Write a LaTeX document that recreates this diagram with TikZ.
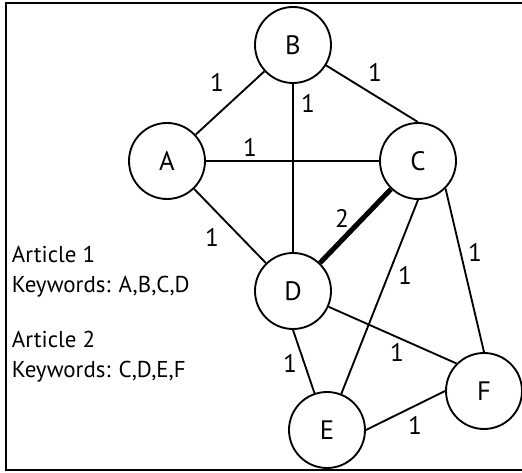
\documentclass[tikz,border=0pt]{standalone}
\usepackage{fontspec}
\setmainfont{PT Sans}
\usetikzlibrary{shapes,positioning}

\begin{document}
\begin{tikzpicture}[x=0.75pt,y=-0.75pt,line width=1.4pt,
  vertex/.style={circle, draw, minimum size=57pt, inner sep=0pt, font=\fontsize{20}{22}\selectfont},
  wt/.style={font=\fontsize{19}{21}\selectfont, inner sep=0pt},
  note/.style={anchor=base west, inner sep=0pt, font=\fontsize{17.2}{19}\selectfont}]
\useasboundingbox (0,0) rectangle (522,473);
\draw (6,3) rectangle (530,470);

\node[vertex] (A) at (167,161) {A};
\node[vertex] (B) at (293,45) {B};
\node[vertex] (C) at (418,161) {C};
\node[vertex] (D) at (293,291) {D};
\node[vertex] (E) at (327,430) {E};
\node[vertex] (F) at (484,391) {F};

\draw (A) -- (B);
\draw (B) -- (C.north);
\draw (B) -- (D);
\draw (A) -- (C);
\draw (A) -- (D);
\draw[line width=3.8pt] (C) -- (D);
\draw (C.south) -- (E);
\draw (C.south east) -- (F.north);
\draw (D) -- (F.north west);
\draw (D.south) -- (E);
\draw (E.east) -- (F.west);

% edge weights
\node[wt] (wAB) at (217,82) {1};
\node[wt] (wBC) at (375,72) {1};
\node[wt] (wBD) at (308,103) {1};
\node[wt] (wAC) at (250,147) {1};
\node[wt] (wAD) at (212,237) {1};
\node[wt] (wCD) at (342,218) {2};
\node[wt] (wCE) at (405,275) {1};
\node[wt] (wCF) at (475,252) {1};
\node[wt] (wDF) at (397,352) {1};
\node[wt] (wDE) at (290,363) {1};
\node[wt] (wEF) at (415,425) {1};

\node[note] (art1) at (11,263) {Article 1};
\node[note] (kw1) at (11,293) {Keywords: A,B,C,D};
\node[note] (art2) at (11,348) {Article 2};
\node[note] (kw2) at (11,378) {Keywords: C,D,E,F};
\end{tikzpicture}
\end{document}
